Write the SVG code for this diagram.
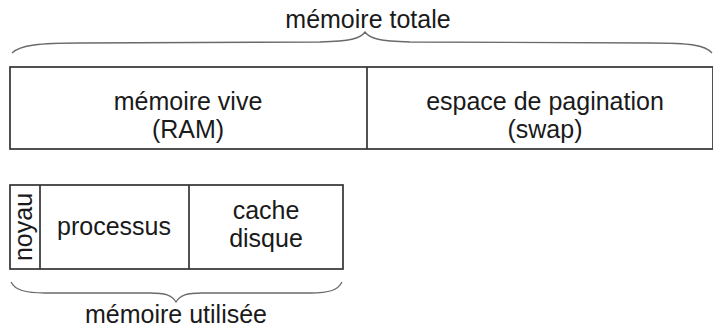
<svg xmlns="http://www.w3.org/2000/svg" width="713" height="328" viewBox="0 0 713 328">
  <style>
    .box { fill: #ffffff; stroke: #333333; stroke-width: 1.7; }
    .div { stroke: #333333; stroke-width: 1.7; fill: none; }
    .brace { fill: none; stroke: #6a6a6a; stroke-width: 1.3; }
    text { font-family: "Liberation Sans", Arial, sans-serif; font-size: 25px; fill: #1a1a1a; text-anchor: middle; }
  </style>
  <rect width="713" height="328" fill="#ffffff"/>

  <!-- total memory bar -->
  <g id="total">
    <rect class="box" x="10" y="67" width="703" height="82"/>
  </g>
  <g id="ram">
    <text x="188" y="110">mémoire vive</text>
    <text x="188" y="138">(RAM)</text>
  </g>
  <g id="swap">
    <text x="545" y="110">espace de pagination</text>
    <text x="545" y="138">(swap)</text>
  </g>

  <!-- used memory bar -->
  <g id="used">
    <rect class="box" x="10" y="185" width="333" height="84"/>
  </g>
  <g id="noyau">
    <text transform="translate(32,227) rotate(-90)">noyau</text>
  </g>
  <g id="processus">
    <text x="114" y="235">processus</text>
  </g>
  <g id="cache">
    <text x="266" y="219">cache</text>
    <text x="266" y="247">disque</text>
  </g>

  <!-- dividers and braces -->
  <g id="connectors">
    <line class="div" x1="367" y1="67" x2="367" y2="149"/>
    <line class="div" x1="40" y1="185" x2="40" y2="269"/>
    <line class="div" x1="189" y1="185" x2="189" y2="269"/>
    <path class="brace" d="M12,53 C20,45 40,43 80,43 L320,42 C350,41 360,39 365,32 C370,39 380,41 410,42 L650,43 C690,43 705,45 712,53"/>
    <path class="brace" d="M11,282 C15,290 25,293 45,293 L150,293 C165,293 172,295 176,302 C180,295 187,293 202,293 L310,293 C330,293 338,290 342,282"/>
  </g>

  <g id="labels">
    <text x="368" y="28">mémoire totale</text>
    <text x="176" y="323">mémoire utilisée</text>
  </g>
</svg>
